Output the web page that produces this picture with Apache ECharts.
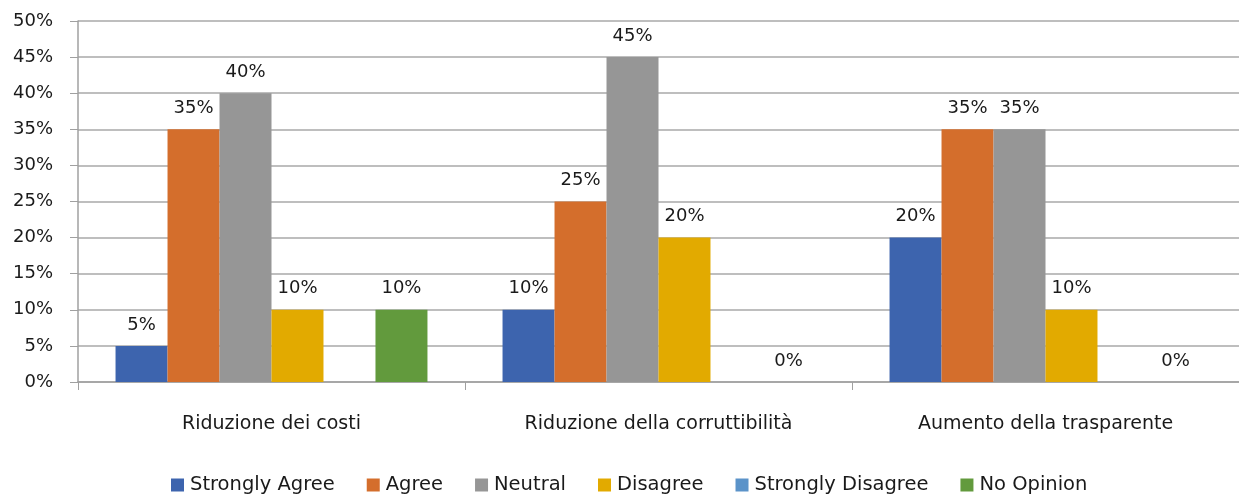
<!DOCTYPE html>
<html>
<head>
<meta charset="utf-8">
<script src="https://cdn.jsdelivr.net/npm/echarts@6/dist/echarts.min.js"></script>
<style>
  html, body { margin: 0; padding: 0; background: #fff; }
  #chart { width: 1239px; height: 498px; }
</style>
</head>
<body>
<div id="chart"></div>
<script>
var categories = ['Riduzione dei costi', 'Riduzione della corruttibilità', 'Aumento della trasparente'];
var seriesNames = ['Strongly Agree', 'Agree', 'Neutral', 'Disagree', 'Strongly Disagree', 'No Opinion'];
var stronglyAgree = [5, 10, 20];
var agree = [35, 25, 35];
var neutral = [40, 45, 35];
var disagree = [10, 20, 10];
var stronglyDisagree = [null, null, null];
var noOpinion = [10, 0, 0];
var colors = ['#3d64ae', '#d46e2c', '#969696', '#e2aa00', '#5b93c9', '#629a3d'];

var chart = echarts.init(document.getElementById('chart'));
var font = '"DejaVu Sans", sans-serif';

function makeSeries(name, data, i) {
    return {
        name: name,
        type: 'bar',
        data: data,
        barGap: '0%',
        barCategoryGap: '19.4%',
        itemStyle: { color: colors[i] },
        label: {
            show: true,
            position: 'top',
            distance: 12,
            formatter: '{c}%',
            fontFamily: font,
            fontSize: 18,
            color: '#1a1a1a'
        }
    };
}

var option = {
    color: colors,
    animation: false,
    textStyle: { fontFamily: font },
    grid: { left: 78, right: 0, top: 21, bottom: 116, containLabel: false },
    legend: {
        data: seriesNames,
        top: 470,
        left: 166,
        itemWidth: 13,
        itemHeight: 13,
        itemGap: 32,
        icon: 'rect',
        textStyle: { fontFamily: font, fontSize: 19.5, color: '#1a1a1a', padding: [0, 0, 0, 1] }
    },
    xAxis: {
        type: 'category',
        data: categories,
        axisLine: { lineStyle: { color: '#a0a0a0', width: 1.5 } },
        axisTick: { show: true, length: 8, lineStyle: { color: '#a0a0a0' } },
        axisLabel: { fontFamily: font, fontSize: 19, color: '#1a1a1a', margin: 33 }
    },
    yAxis: {
        type: 'value',
        min: 0,
        max: 50,
        interval: 5,
        axisLine: { show: true, lineStyle: { color: '#a0a0a0', width: 1.5 } },
        axisTick: { show: true, length: 8, inside: false, lineStyle: { color: '#a0a0a0' } },
        splitLine: { lineStyle: { color: '#a8a8a8', width: 1.5 } },
        axisLabel: { formatter: '{value}%', fontFamily: font, fontSize: 18, color: '#1a1a1a', margin: 25 }
    },
    series: [
        makeSeries(seriesNames[0], stronglyAgree, 0),
        makeSeries(seriesNames[1], agree, 1),
        makeSeries(seriesNames[2], neutral, 2),
        makeSeries(seriesNames[3], disagree, 3),
        makeSeries(seriesNames[4], stronglyDisagree, 4),
        makeSeries(seriesNames[5], noOpinion, 5)
    ]
};
chart.setOption(option);
</script>
</body>
</html>
